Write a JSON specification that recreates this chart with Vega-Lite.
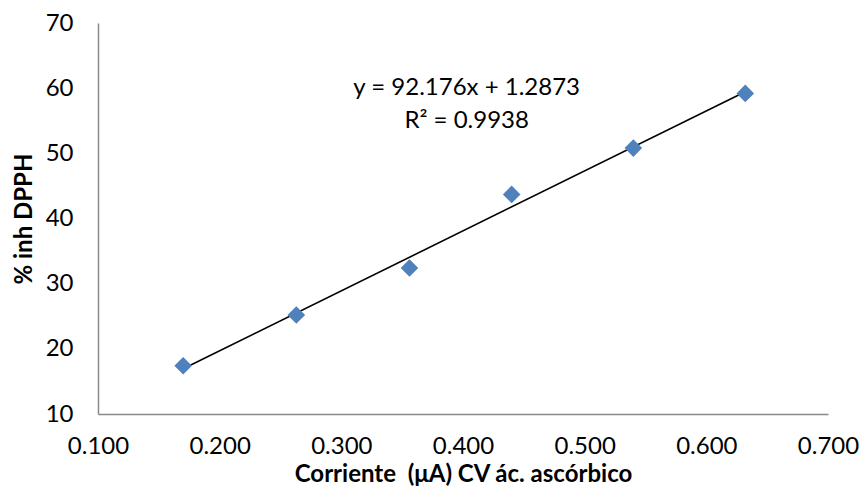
{
  "$schema": "https://vega.github.io/schema/vega-lite/v6.json",
  "width": 730,
  "height": 391,
  "autosize": {"type": "none"},
  "padding": {"left": 98, "top": 23, "right": 34, "bottom": 88},
  "background": "white",
  "config": {
    "view": {"stroke": null},
    "font": "Lato",
    "axis": {"grid": false, "ticks": false, "domainColor": "#898989", "domainWidth": 1.5, "labelFont": "Lato", "labelFontSize": 24, "labelFontWeight": "normal", "labelColor": "#000000", "titleFont": "Lato", "titleFontSize": 24, "titleFontWeight": "bold", "titleColor": "#000000"}
  },
  "data": {
    "values": [
      {"x": 0.170, "y": 17.4},
      {"x": 0.263, "y": 25.2},
      {"x": 0.356, "y": 32.4},
      {"x": 0.440, "y": 43.7},
      {"x": 0.540, "y": 50.8},
      {"x": 0.632, "y": 59.2}
    ]
  },
  "layer": [
    {
      "transform": [{"regression": "y", "on": "x"}],
      "mark": {"type": "line", "color": "#000000", "strokeWidth": 1.6},
      "encoding": {
        "x": {"field": "x", "type": "quantitative", "scale": {"domain": [0.1, 0.7], "nice": false}},
        "y": {"field": "y", "type": "quantitative", "scale": {"domain": [10, 70], "nice": false}}
      }
    },
    {
      "mark": {"type": "point", "shape": "diamond", "filled": true, "size": 310, "color": "#4F81BD", "opacity": 1},
      "encoding": {
        "x": {"field": "x", "type": "quantitative", "title": "Corriente\u00a0 (μA) CV ác. ascórbico", "scale": {"domain": [0.1, 0.7], "nice": false}, "axis": {"values": [0.1, 0.2, 0.3, 0.4, 0.5, 0.6, 0.7], "format": ".3f", "labelPadding": 20, "titlePadding": 4, "labelFlush": false}},
        "y": {"field": "y", "type": "quantitative", "title": "% inh DPPH", "scale": {"domain": [10, 70], "nice": false}, "axis": {"values": [10, 20, 30, 40, 50, 60, 70], "labelPadding": 25, "titlePadding": 9, "labelFlush": false}}
      }
    },
    {
      "data": {"values": [{"label": "trend"}]},
      "mark": {"type": "text", "fontSize": 24, "fontWeight": 400, "font": "Lato", "fill": "#000000", "align": "center", "baseline": "middle", "lineHeight": 33, "text": ["y = 92.176x + 1.2873", "R² = 0.9938"]},
      "encoding": {
        "x": {"datum": 0.403},
        "y": {"datum": 60.1}
      }
    }
  ]
}
